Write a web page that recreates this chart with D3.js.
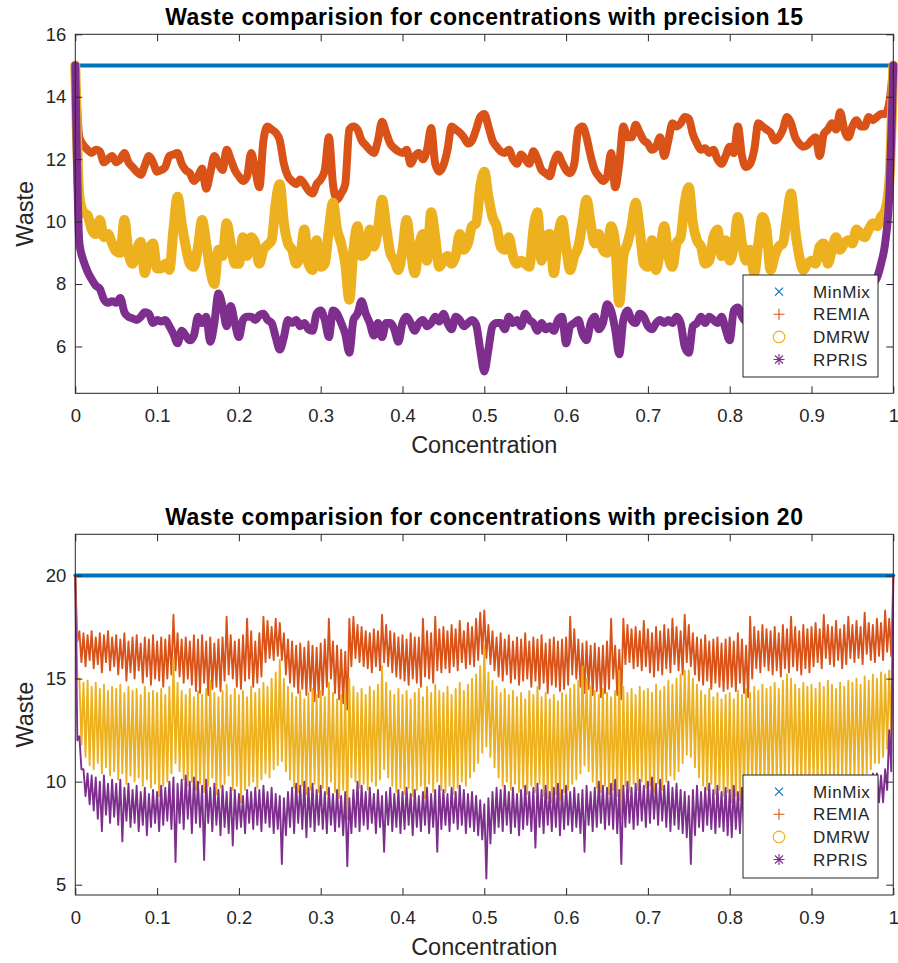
<!DOCTYPE html>
<html>
<head>
<meta charset="utf-8">
<script src="https://cdn.jsdelivr.net/npm/d3@7"></script>
<style>
  body { margin: 0; background: #ffffff; }
  svg { display: block; }
</style>
</head>
<body>
<svg id="chart" width="898" height="963"></svg>
<script>
// ---------------- DATA ----------------
const seriesNames = ["MinMix", "REMIA", "DMRW", "RPRIS"];
const xTickValues = [0, 0.1, 0.2, 0.3, 0.4, 0.5, 0.6, 0.7, 0.8, 0.9, 1];
const xTickLabels = ["0", "0.1", "0.2", "0.3", "0.4", "0.5", "0.6", "0.7", "0.8", "0.9", "1"];
const yTicksTop = [6, 8, 10, 12, 14, 16];
const yTicksBottom = [5, 10, 15, 20];
const titles = [
  "Waste comparision for concentrations with precision 15",
  "Waste comparision for concentrations with precision 20"
];

// concentration grid (step 0.005) used by every sampled series
const concentrations = d3.range(201).map(i => i / 200);
const minMixConc = [0, 1];
const minMix15 = [15, 15];
const minMix20 = [20, 20];

// precision 15: waste sampled on the grid
const remia15 = [
  15.0, 12.7, 12.45, 12.3, 12.2, 12.3, 12.25, 11.9, 12.0, 12.1,
  11.9, 12.0, 12.2, 11.9, 11.75, 11.6, 11.5, 11.8, 12.1, 11.9,
  11.6, 11.65, 11.75, 12.1, 12.15, 12.2, 11.85, 11.65, 11.55, 11.3,
  11.45, 11.7, 11.05, 11.55, 12.1, 11.85, 11.65, 12.3, 12.0, 11.65,
  11.45, 11.3, 11.45, 12.2, 11.65, 11.1, 12.6, 13.05, 12.95, 12.85,
  12.6, 11.85, 11.45, 11.3, 11.2, 11.35, 11.2, 11.0, 10.9, 11.2,
  11.35, 11.65, 12.7, 11.2, 10.7, 10.9, 11.2, 12.95, 13.05, 12.95,
  12.6, 12.45, 12.3, 12.2, 12.6, 13.2, 12.85, 12.5, 12.35, 12.25,
  12.2, 12.3, 11.85, 12.1, 12.2, 12.0, 12.3, 13.0, 11.85, 11.6,
  11.8, 12.3, 13.05, 12.95, 12.85, 12.7, 12.5, 12.6, 12.95, 13.35,
  13.45, 13.05, 12.6, 12.4, 12.25, 12.2, 12.3, 12.0, 11.85, 12.15,
  12.0, 11.85, 12.25, 12.0, 11.65, 11.55, 11.45, 11.9, 12.15, 11.9,
  11.65, 11.55, 11.85, 12.95, 13.05, 12.7, 12.1, 11.65, 11.45, 11.3,
  11.45, 12.2, 11.1, 11.85, 13.05, 12.7, 12.7, 13.1, 12.85, 12.6,
  12.5, 12.3, 12.4, 12.7, 12.1, 12.6, 13.15, 13.05, 13.15, 13.35,
  13.3, 12.8, 12.5, 12.3, 12.35, 12.2, 12.3, 12.0, 11.85, 12.1,
  12.4, 12.2, 13.05, 12.1, 11.75, 11.85, 12.3, 13.15, 13.05, 12.95,
  12.85, 12.6, 12.7, 12.95, 13.35, 13.15, 12.7, 12.5, 12.4, 12.45,
  12.6, 12.7, 12.1, 12.8, 12.95, 13.15, 12.95, 13.5, 12.95, 12.7,
  13.05, 13.25, 13.05, 13.05, 13.35, 13.25, 13.35, 13.45, 13.45, 13.8,
  15.0
];
const dmrw15 = [
  15.0, 10.8, 10.3, 10.2, 9.75, 9.6, 10.05, 9.5, 9.6, 9.3,
  9.05, 9.0, 10.05, 9.0, 8.65, 9.1, 9.35, 8.35, 9.1, 9.3,
  8.5, 8.5, 8.65, 8.45, 9.75, 10.8, 9.95, 9.2, 8.65, 8.55,
  9.2, 10.05, 9.3, 8.45, 8.0, 9.1, 8.9, 9.95, 9.3, 8.65,
  8.65, 9.5, 8.9, 9.5, 9.3, 8.65, 9.1, 9.25, 9.4, 10.6,
  11.2, 9.95, 9.3, 9.1, 8.65, 8.9, 9.75, 8.65, 8.45, 9.4,
  8.55, 8.65, 9.75, 10.6, 9.75, 9.3, 8.65, 7.5, 9.1, 9.85,
  8.9, 9.0, 9.75, 9.2, 9.75, 10.7, 9.85, 9.0, 8.75, 8.45,
  9.1, 10.05, 9.1, 8.35, 9.2, 9.6, 8.75, 10.3, 9.5, 8.55,
  8.75, 8.9, 8.65, 8.9, 9.6, 9.1, 9.3, 9.85, 9.95, 11.1,
  11.6, 10.8, 10.15, 9.85, 9.2, 9.1, 9.5, 8.9, 8.65, 8.75,
  8.65, 8.55, 9.75, 10.3, 8.75, 9.5, 9.6, 8.35, 9.5, 10.05,
  9.2, 8.45, 8.9, 9.2, 9.95, 10.7, 9.95, 9.3, 9.6, 9.1,
  9.0, 9.85, 9.3, 7.4, 8.9, 9.3, 9.85, 10.6, 9.75, 8.65,
  8.55, 9.4, 8.45, 9.1, 9.85, 8.9, 8.55, 9.3, 9.5, 10.6,
  11.1, 9.95, 9.4, 9.2, 8.65, 8.75, 9.5, 9.75, 8.9, 9.4,
  8.75, 9.2, 10.15, 9.3, 8.75, 9.1, 8.35, 9.3, 10.15, 9.75,
  8.45, 8.9, 9.2, 9.3, 10.15, 10.9, 9.75, 8.9, 8.45, 8.65,
  8.75, 8.65, 9.2, 9.3, 8.65, 9.1, 9.5, 9.1, 9.3, 9.4,
  9.3, 9.75, 9.6, 9.5, 9.75, 9.95, 9.85, 10.15, 10.35, 11.2,
  15.0
];
const rpris15 = [
  15.0, 9.3, 8.75, 8.4, 8.15, 7.95, 7.85, 7.5, 7.4, 7.45,
  7.4, 7.55, 7.1, 6.95, 6.9, 6.85, 6.95, 7.1, 7.05, 6.75,
  6.85, 6.8, 6.85, 6.65, 6.4, 6.1, 6.5, 6.35, 6.2, 6.35,
  6.95, 6.75, 6.95, 6.15, 6.75, 7.7, 7.3, 6.65, 7.3, 6.75,
  6.3, 6.85, 6.95, 6.95, 6.85, 7.0, 7.05, 6.85, 6.75, 6.3,
  5.9, 6.3, 6.85, 6.75, 6.85, 6.65, 6.75, 6.55, 6.5, 7.05,
  7.15, 6.85, 6.3, 7.15, 7.05, 6.75, 6.4, 5.8, 6.85, 7.05,
  7.45, 7.05, 6.75, 6.35, 6.75, 6.3, 6.75, 6.75, 6.55, 6.15,
  6.75, 6.95, 6.75, 6.5, 6.75, 6.85, 6.65, 6.75, 6.95, 6.8,
  7.05, 6.75, 6.55, 6.95, 6.85, 6.65, 6.75, 6.85, 6.7, 5.9,
  5.2, 5.9, 6.65, 6.75, 6.75, 6.55, 6.95, 6.75, 6.85, 6.65,
  7.05, 6.85, 6.75, 6.5, 6.75, 6.55, 6.65, 6.5, 6.85, 6.95,
  6.1, 6.65, 6.75, 6.85, 6.4, 6.2, 6.75, 6.95, 6.55, 6.75,
  7.35, 7.15, 6.55, 5.75, 6.85, 7.15, 6.85, 6.75, 7.05, 6.95,
  6.65, 6.55, 6.75, 6.85, 6.75, 6.85, 6.75, 6.95, 6.75, 6.0,
  5.8, 6.65, 6.75, 6.95, 6.75, 6.95, 6.85, 6.75, 6.95, 6.55,
  6.2, 7.15, 7.25, 6.95, 6.8, 6.9, 6.7, 6.8, 6.6, 6.9,
  6.8, 6.7, 6.9, 6.8, 6.6, 6.2, 6.8, 6.9, 6.7, 6.8,
  6.9, 6.8, 6.9, 7.0, 6.9, 7.1, 7.0, 7.2, 7.1, 7.3,
  7.4, 7.5, 7.6, 7.8, 7.85, 8.0, 8.2, 8.65, 9.3, 10.8,
  15.0
];

// precision 20: per-bin upper / lower extent of the very dense series
const remia20Hi = [
  20, 17.3, 17.2, 17.1, 17.3, 17.0, 17.2, 17.1, 17.3, 17.0,
  17.1, 16.9, 17.2, 16.8, 17.0, 17.1, 16.7, 17.0, 16.9, 17.1,
  16.8, 17.0, 16.9, 17.1, 18.1, 17.2, 16.9, 17.0, 16.8, 17.1,
  16.9, 17.1, 16.8, 17.0, 16.7, 16.9, 17.0, 18.0, 17.1, 16.8,
  16.9, 17.1, 17.9, 17.3, 16.8, 17.2, 18.0, 17.8, 17.5, 17.9,
  17.7, 17.2, 16.9, 16.8, 16.6, 16.7, 16.5, 16.8, 16.6, 16.5,
  16.7, 16.9, 17.9, 16.8, 16.6, 16.4, 16.3, 17.9, 18.0, 17.6,
  17.5, 17.3, 17.2, 17.4, 17.3, 18.1, 17.6, 17.3, 17.2, 17.0,
  17.1, 16.9, 17.2, 17.0, 17.0, 17.9, 17.3, 17.2, 18.0, 17.4,
  17.5, 17.3, 17.6, 17.4, 17.8, 17.3, 17.7, 17.5, 17.9, 18.2,
  18.3, 17.6, 17.3, 17.0, 17.2, 16.9, 17.1, 16.8, 17.0, 16.9,
  17.2, 16.8, 17.0, 16.9, 17.1, 16.7, 16.9, 17.0, 16.8, 16.9,
  17.0, 18.0, 17.4, 16.9, 16.7, 16.8, 16.6, 16.7, 16.5, 16.6,
  16.8, 17.9, 16.6, 16.4, 17.9, 17.6, 17.4, 17.5, 17.3, 17.8,
  17.4, 17.2, 17.5, 17.3, 17.6, 17.4, 17.9, 17.5, 17.3, 18.1,
  17.6, 17.2, 17.0, 16.9, 17.1, 16.8, 16.9, 17.0, 16.7, 16.9,
  17.0, 16.8, 17.2, 16.9, 16.6, 18.0, 17.5, 17.3, 17.6, 17.4,
  17.3, 17.5, 17.2, 17.6, 17.4, 18.0, 17.5, 17.3, 17.6, 17.4,
  17.5, 17.7, 17.4, 18.1, 17.6, 17.5, 17.8, 17.4, 17.6, 18.0,
  17.6, 17.8, 17.5, 18.2, 17.7, 17.6, 17.9, 17.7, 18.3, 17.9,
  20
];
const remia20Lo = [
  16.8, 15.8, 15.6, 15.9, 15.5, 15.7, 15.3, 15.8, 15.4, 15.6,
  15.2, 15.5, 14.9, 15.3, 15.0, 15.4, 14.8, 15.1, 14.7, 15.0,
  14.9, 14.6, 15.0, 15.2, 15.4, 15.1, 14.8, 15.0, 14.7, 14.4,
  14.3, 14.8, 14.2, 14.5, 14.6, 14.4, 14.9, 15.2, 15.0, 14.6,
  14.5, 14.9, 15.0, 14.6, 14.8, 15.1, 15.8, 16.0, 15.9, 16.1,
  15.9, 15.2, 14.8, 14.6, 14.3, 14.5, 14.2, 14.4, 13.9, 14.1,
  14.2, 14.6, 15.0, 14.3, 14.0, 13.8, 13.5, 15.6, 16.0, 15.8,
  15.6, 15.5, 15.3, 15.6, 15.4, 15.8, 15.6, 15.3, 15.1, 15.0,
  14.9, 14.7, 15.0, 14.8, 14.6, 15.1, 15.0, 14.8, 15.4, 15.3,
  15.5, 15.3, 15.6, 15.4, 15.8, 15.5, 15.7, 15.6, 15.9, 16.2,
  16.0, 15.7, 15.4, 15.1, 14.9, 15.2, 14.8, 15.0, 14.7, 14.9,
  15.0, 14.6, 14.9, 14.5, 14.8, 14.3, 14.7, 14.6, 14.4, 14.5,
  14.7, 15.2, 15.0, 14.6, 14.3, 14.5, 14.2, 14.4, 14.1, 14.3,
  14.5, 15.0, 14.2, 14.0, 15.7, 15.8, 15.5, 15.6, 15.4, 15.6,
  15.3, 15.1, 15.4, 15.2, 15.5, 15.3, 15.7, 15.4, 15.2, 15.8,
  15.6, 15.2, 14.9, 14.7, 14.9, 14.5, 14.8, 14.6, 14.4, 14.5,
  14.6, 14.4, 14.8, 14.3, 14.1, 15.0, 15.5, 15.3, 15.6, 15.4,
  15.2, 15.4, 15.1, 15.5, 15.3, 15.6, 15.4, 15.2, 15.5, 15.3,
  15.6, 15.8, 15.5, 16.0, 15.7, 15.6, 15.9, 15.5, 15.7, 16.0,
  15.8, 16.0, 15.7, 16.2, 15.9, 15.8, 16.1, 15.9, 16.3, 16.1,
  18.0
];
const dmrw20Hi = [
  20, 15.0, 14.8, 14.9, 14.6, 14.8, 14.5, 14.7, 14.4, 14.6,
  14.5, 14.7, 14.3, 14.6, 14.4, 14.5, 14.2, 14.6, 14.3, 14.4,
  14.3, 14.5, 14.2, 14.6, 16.0, 14.8, 14.4, 14.2, 14.5, 14.1,
  14.4, 14.2, 14.5, 14.9, 14.3, 14.1, 14.4, 14.7, 14.2, 14.5,
  14.2, 14.4, 14.1, 14.6, 14.3, 14.5, 14.8, 14.6, 15.0, 15.3,
  15.9, 15.0, 14.6, 14.3, 14.1, 14.4, 14.0, 14.3, 14.5, 14.2,
  14.4, 14.1, 14.8, 14.3, 14.0, 14.2, 14.4, 15.0, 14.6, 14.3,
  14.5, 14.2, 14.6, 14.4, 14.7, 15.6, 14.8, 14.4, 14.2, 14.5,
  14.2, 14.4, 14.0, 14.3, 14.5, 14.1, 14.6, 14.3, 14.7, 14.4,
  14.3, 14.6, 14.2, 14.5, 14.8, 14.4, 14.7, 15.0, 15.2, 15.6,
  16.6, 15.3, 14.9, 14.6, 14.3, 14.5, 14.2, 14.4, 14.1, 14.3,
  14.0, 14.4, 14.2, 14.6, 14.1, 14.3, 14.0, 14.2, 13.9, 14.3,
  14.2, 14.5, 14.7, 14.9, 15.6, 15.0, 14.6, 14.4, 14.2, 14.5,
  14.3, 14.1, 14.4, 15.4, 14.6, 14.3, 14.5, 14.2, 14.6, 14.4,
  14.5, 14.3, 14.7, 14.4, 14.6, 14.9, 14.7, 15.0, 15.2, 15.4,
  15.4, 15.0, 14.7, 14.4, 14.2, 14.5, 14.1, 14.3, 14.0, 14.2,
  14.3, 14.0, 14.4, 14.2, 14.5, 14.3, 14.6, 14.4, 14.7, 14.5,
  14.6, 14.8, 14.5, 14.9, 15.2, 15.0, 14.7, 14.5, 14.8, 14.6,
  14.7, 14.5, 14.8, 14.6, 14.9, 14.7, 14.5, 14.8, 14.6, 14.9,
  14.8, 15.0, 14.7, 15.1, 14.9, 15.2, 15.0, 15.3, 15.2, 15.4,
  20
];
const dmrw20Lo = [
  15.0, 11.8, 11.2, 10.8, 10.6, 10.9, 10.4, 10.7, 10.3, 10.5,
  10.1, 10.4, 9.9, 10.3, 10.0, 10.2, 9.8, 10.1, 9.7, 9.9,
  9.3, 9.8, 10.0, 10.4, 10.9, 10.5, 10.1, 9.8, 10.0, 9.6,
  9.9, 9.5, 9.8, 10.2, 9.4, 9.7, 9.9, 10.3, 9.6, 9.8,
  9.0, 9.6, 9.8, 10.0, 9.7, 10.1, 10.4, 10.2, 10.6, 10.8,
  11.0, 10.5, 10.1, 9.7, 9.5, 9.8, 9.4, 9.6, 9.9, 9.5,
  9.7, 9.4, 10.0, 9.5, 9.2, 9.6, 8.2, 10.2, 10.0, 9.7,
  9.9, 9.6, 10.0, 9.8, 10.1, 10.6, 10.2, 9.8, 9.5, 9.7,
  9.4, 9.7, 9.3, 9.6, 9.8, 9.2, 9.9, 9.5, 10.0, 9.6,
  9.5, 9.8, 9.4, 9.7, 10.0, 9.8, 10.2, 10.5, 10.9, 11.4,
  11.7, 11.2, 10.7, 10.2, 9.8, 10.0, 9.6, 9.9, 9.5, 9.7,
  9.4, 9.8, 9.5, 9.9, 9.3, 9.2, 9.0, 9.4, 9.1, 9.5,
  9.6, 9.9, 10.1, 10.4, 10.8, 10.5, 10.0, 9.7, 9.5, 9.8,
  9.4, 9.6, 9.3, 8.2, 9.8, 9.5, 9.9, 9.6, 10.0, 9.7,
  9.8, 9.5, 9.9, 9.6, 10.0, 10.3, 10.1, 10.5, 10.9, 11.3,
  11.2, 10.7, 10.2, 9.8, 9.6, 9.9, 9.4, 9.6, 9.3, 9.5,
  9.0, 9.3, 9.1, 9.4, 9.6, 9.8, 9.5, 9.7, 9.9, 9.6,
  9.8, 10.0, 9.7, 10.1, 10.4, 10.2, 9.9, 9.7, 10.0, 9.8,
  9.9, 9.7, 10.0, 9.8, 10.1, 9.9, 9.8, 10.1, 9.9, 10.2,
  10.1, 10.3, 10.0, 10.4, 10.6, 10.9, 10.9, 11.2, 11.6, 12.2,
  15.0
];
const rpris20Hi = [
  20, 12.2, 10.6, 10.4, 10.3, 10.2, 10.0, 10.3, 9.9, 10.1,
  9.9, 10.1, 9.7, 9.9, 9.6, 9.8, 9.5, 9.7, 9.4, 9.6,
  9.5, 9.8, 9.7, 10.0, 10.2, 9.9, 10.1, 10.3, 10.0, 10.2,
  10.0, 9.8, 10.1, 9.7, 9.9, 9.6, 9.8, 9.5, 9.7, 9.6,
  9.4, 9.3, 9.6, 9.5, 9.7, 9.6, 9.8, 9.5, 9.7, 9.4,
  9.3, 9.2, 9.5, 9.7, 9.9, 9.8, 10.0, 9.7, 9.9, 9.6,
  9.8, 9.5, 9.7, 9.4, 9.6, 9.3, 9.5, 9.2, 9.6, 10.0,
  9.8, 9.5, 9.7, 9.4, 9.6, 9.3, 9.5, 9.7, 9.4, 9.6,
  9.5, 9.7, 9.4, 9.6, 9.3, 9.5, 9.7, 9.4, 9.6, 9.8,
  9.6, 9.4, 9.7, 9.5, 9.8, 9.6, 9.4, 9.5, 9.3, 9.1,
  8.9, 9.2, 9.5, 9.7, 9.6, 9.8, 9.5, 9.7, 9.4, 9.6,
  9.8, 9.5, 9.7, 9.9, 9.6, 9.8, 9.5, 9.7, 9.9, 9.6,
  9.8, 9.5, 9.7, 9.4, 9.6, 9.8, 9.5, 9.7, 10.0, 9.8,
  9.7, 9.9, 10.1, 9.6, 9.8, 10.0, 9.7, 9.9, 10.1, 9.8,
  10.0, 10.2, 9.9, 10.1, 9.8, 10.0, 9.7, 9.9, 9.6, 9.5,
  9.3, 9.6, 9.8, 9.5, 9.7, 9.9, 9.6, 9.8, 9.5, 9.7,
  9.6, 9.8, 9.5, 9.7, 9.6, 9.8, 9.7, 9.9, 9.6, 9.8,
  9.7, 9.9, 9.6, 9.8, 9.7, 9.9, 9.6, 9.8, 9.7, 9.9,
  9.8, 10.0, 9.7, 9.9, 9.8, 10.0, 9.7, 9.9, 9.8, 10.0,
  9.9, 10.1, 9.8, 10.0, 10.2, 10.4, 10.4, 10.3, 10.6, 12.5,
  20
];
const rpris20Lo = [
  12.0, 10.6, 9.3, 8.9, 8.6, 8.2, 7.6, 8.4, 8.0, 8.3,
  7.9, 7.1, 8.1, 7.8, 8.0, 7.6, 7.9, 7.4, 7.8, 8.0,
  7.6, 7.9, 8.1, 7.7, 6.1, 8.0, 7.7, 8.2, 7.5, 8.0,
  7.8, 6.2, 8.0, 7.6, 7.9, 7.4, 7.8, 7.5, 6.9, 7.7,
  7.8, 7.5, 8.0, 7.7, 7.9, 7.6, 8.0, 7.8, 7.5, 7.7,
  6.0, 7.4, 7.8, 7.5, 8.0, 7.7, 7.3, 7.8, 7.6, 7.9,
  7.7, 7.5, 7.9, 7.6, 7.8, 7.4, 5.9, 7.5, 7.8, 7.6,
  7.9, 7.7, 8.0, 7.5, 7.8, 6.6, 7.9, 7.6, 7.8, 7.5,
  7.7, 7.9, 7.4, 7.8, 7.6, 7.9, 7.5, 7.8, 6.6, 7.7,
  7.9, 7.6, 8.0, 7.7, 7.9, 7.5, 7.8, 7.6, 7.4, 7.2,
  5.3, 7.0, 7.5, 7.8, 7.6, 7.9, 7.5, 7.8, 7.4, 7.7,
  7.9, 7.6, 6.8, 7.8, 7.5, 7.9, 7.6, 7.8, 7.4, 7.7,
  7.9, 7.6, 7.8, 7.5, 6.6, 7.9, 7.6, 7.8, 8.0, 7.7,
  7.9, 7.7, 7.5, 6.0, 7.8, 8.0, 7.7, 7.9, 8.1, 7.8,
  8.0, 8.2, 7.9, 8.1, 7.8, 7.6, 7.9, 7.7, 7.5, 7.3,
  6.0, 7.4, 7.8, 7.6, 7.9, 7.7, 7.5, 7.8, 7.6, 7.4,
  7.3, 7.7, 7.5, 7.8, 7.6, 7.9, 7.7, 7.8, 7.6, 7.9,
  7.7, 7.9, 7.6, 7.8, 7.7, 7.9, 7.6, 7.8, 7.7, 7.9,
  7.8, 8.0, 7.7, 7.9, 7.8, 8.0, 7.7, 7.9, 7.8, 8.0,
  7.9, 8.1, 7.8, 8.2, 8.5, 8.9, 9.0, 9.0, 9.6, 10.5,
  16.0
];

// ---------------- STYLE / LAYOUT ----------------
const colors = { MinMix: "#0072BD", REMIA: "#D95319", DMRW: "#EDB120", RPRIS: "#7E2F8E" };
const FONT = "'Liberation Sans', Arial, Helvetica, sans-serif";
const AXC = "#262626";
const plotLeft = 75.3, plotRight = 893.3;

const svg = d3.select("#chart");
svg.append("rect").attr("width", 898).attr("height", 963).attr("fill", "#fff");

const x = d3.scaleLinear().domain([0, 1]).range([plotLeft, plotRight]);
const zip = (xs, ys) => ys.map((v, i) => [xs[i], v]);
const halfBin = (concentrations[1] - concentrations[0]) / 2;
function zigzag(hi, lo) {
  const pts = [];
  hi.forEach((h, i) => {
    pts.push([concentrations[i], h]);
    if (i < hi.length - 1) pts.push([concentrations[i] + halfBin, lo[i]]);
  });
  return pts;
}

const panels = [
  {
    title: titles[0], top: 34.3, bottom: 393.3, yDomain: [4.5, 16], yTicks: yTicksTop,
    titleY: 25, xLabelY: 453, legendY: 275, legendH: 102,
    series: [
      { name: "MinMix", pts: zip(minMixConc, minMix15), w: 4, smooth: false },
      { name: "REMIA", pts: zip(concentrations, remia15), w: 8, smooth: true },
      { name: "DMRW", pts: zip(concentrations, dmrw15), w: 10, smooth: true },
      { name: "RPRIS", pts: zip(concentrations, rpris15), w: 8, smooth: true }
    ]
  },
  {
    title: titles[1], top: 534.3, bottom: 895, yDomain: [4.5, 22], yTicks: yTicksBottom,
    titleY: 525, xLabelY: 955, legendY: 775, legendH: 103,
    series: [
      { name: "MinMix", pts: zip(minMixConc, minMix20), w: 4, smooth: false },
      { name: "REMIA", pts: zigzag(remia20Hi, remia20Lo), w: 1.9, smooth: false },
      { name: "DMRW", pts: zigzag(dmrw20Hi, dmrw20Lo), w: 1.9, smooth: false },
      { name: "RPRIS", pts: zigzag(rpris20Hi, rpris20Lo), w: 1.9, smooth: false }
    ]
  }
];

function styleAxis(g) {
  g.attr("font-family", FONT).attr("font-size", 18.5);
  g.select(".domain").remove();
  g.selectAll(".tick line").attr("stroke", AXC).attr("stroke-width", 1);
  g.selectAll(".tick text").attr("fill", AXC);
}

panels.forEach(p => {
  const y = d3.scaleLinear().domain(p.yDomain).range([p.bottom, p.top]);
  const g = svg.append("g");

  // series
  p.series.forEach(s => {
    const line = d3.line().x(d => x(d[0])).y(d => y(d[1]))
      .curve(s.smooth ? d3.curveMonotoneX : d3.curveLinear);
    g.append("path")
      .attr("d", line(s.pts))
      .attr("fill", "none")
      .attr("stroke", colors[s.name])
      .attr("stroke-width", s.w)
      .attr("stroke-linejoin", "round")
      .attr("stroke-linecap", s.w > 2 ? "round" : "butt");
  });

  // axes (ticks inward, mirrored)
  g.append("g").attr("transform", `translate(0,${p.bottom})`)
    .call(d3.axisBottom(x).tickValues(xTickValues).tickFormat((d, i) => xTickLabels[i])
      .tickSizeInner(-7).tickSizeOuter(0).tickPadding(15.5))
    .call(styleAxis);
  g.append("g").attr("transform", `translate(0,${p.top})`)
    .call(d3.axisTop(x).tickValues(xTickValues).tickFormat("").tickSizeInner(-7).tickSizeOuter(0))
    .call(styleAxis);
  g.append("g").attr("transform", `translate(${plotLeft},0)`)
    .call(d3.axisLeft(y).tickValues(p.yTicks).tickFormat(d3.format("d"))
      .tickSizeInner(-7).tickSizeOuter(0).tickPadding(9))
    .call(styleAxis);
  g.append("g").attr("transform", `translate(${plotRight},0)`)
    .call(d3.axisRight(y).tickValues(p.yTicks).tickFormat("").tickSizeInner(-7).tickSizeOuter(0))
    .call(styleAxis);

  // box
  g.append("rect")
    .attr("x", plotLeft).attr("y", p.top)
    .attr("width", plotRight - plotLeft).attr("height", p.bottom - p.top)
    .attr("fill", "none").attr("stroke", AXC).attr("stroke-width", 1);

  // title
  g.append("text")
    .attr("x", (plotLeft + plotRight) / 2).attr("y", p.titleY)
    .attr("text-anchor", "middle")
    .attr("font-family", FONT).attr("font-weight", "bold")
    .attr("font-size", 23).attr("letter-spacing", 0.5)
    .attr("fill", "#000")
    .text(p.title);

  // x label
  g.append("text")
    .attr("x", (plotLeft + plotRight) / 2).attr("y", p.xLabelY)
    .attr("text-anchor", "middle")
    .attr("font-family", FONT).attr("font-size", 23.5)
    .attr("fill", AXC)
    .text("Concentration");

  // y label
  g.append("text")
    .attr("transform", `translate(33,${(p.top + p.bottom) / 2}) rotate(-90)`)
    .attr("text-anchor", "middle")
    .attr("font-family", FONT).attr("font-size", 23.5)
    .attr("fill", AXC)
    .text("Waste");

  // legend
  const lg = g.append("g").attr("transform", `translate(743,${p.legendY})`);
  lg.append("rect").attr("width", 135).attr("height", p.legendH)
    .attr("fill", "#fff").attr("stroke", AXC).attr("stroke-width", 1);
  seriesNames.forEach((name, i) => {
    const cy = 16.7 + i * 22.6;
    const mg = lg.append("g").attr("transform", `translate(36,${cy})`)
      .attr("stroke", colors[name]).attr("stroke-width", 1.1).attr("fill", "none");
    if (name === "MinMix") {
      mg.append("path").attr("d", "M-4,-4L4,4M-4,4L4,-4");
    } else if (name === "REMIA") {
      mg.append("path").attr("d", "M-5.5,0L5.5,0M0,-5.5L0,5.5");
    } else if (name === "DMRW") {
      mg.append("circle").attr("r", 5.8);
    } else {
      mg.append("path").attr("d", "M-5.5,0L5.5,0M0,-5.5L0,5.5M-4,-4L4,4M-4,4L4,-4");
    }
    lg.append("text")
      .attr("x", 70).attr("y", cy)
      .attr("dy", "0.36em")
      .attr("font-family", FONT).attr("font-size", 17).attr("letter-spacing", 0.6)
      .attr("fill", AXC)
      .text(name);
  });
});
</script>
</body>
</html>
